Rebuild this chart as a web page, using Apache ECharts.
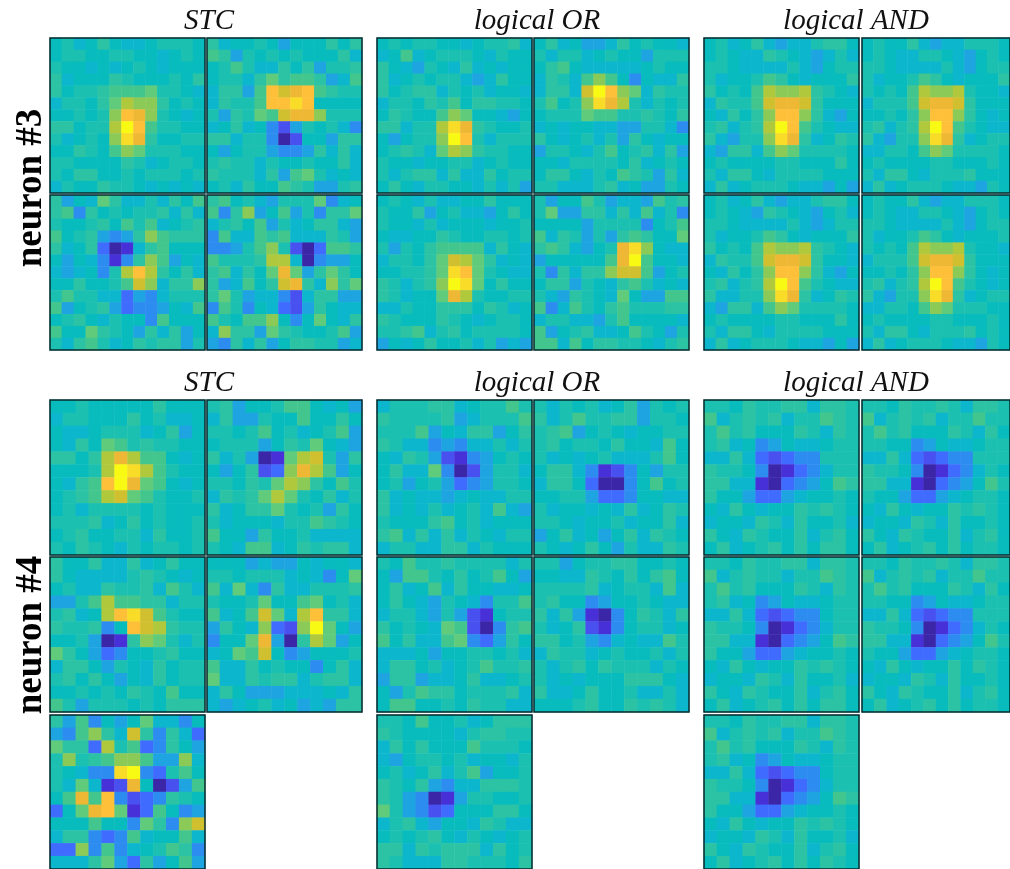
<!DOCTYPE html>
<html><head><meta charset="utf-8">
<style>html,body{margin:0;padding:0;background:#fff;overflow:hidden}#c{width:1010px;height:869px}</style>
<script src="https://cdn.jsdelivr.net/npm/echarts@6/dist/echarts.min.js"></script>
</head><body><div id="c"></div>
<script>
// Each character is one cell's colour level, base 36, from 0 (dark blue) to i (yellow).
const n3StcA=["7867976678887","7887788776787","8776767876777","9677798777879","97889aaab8876","68879bdcc9787","77878cgfc8767","99788diga8877","86787chf97788","77987acb88877","8877779867887","8799778788878","6877988767676"];
const n3StcB=["9677875777979","a958787877796","78a8669795889","78869b9aa956a","6995agefga988","6988agghg7777","8598baeffc888","6796742587864","9968840277599","7578854459696","8988687787796","9888695ab8676","786977a985589"];
const n3StcC=["9576b9668697a","9a49787889696","877897a8a6789","a7895459ca999","967930169a777","75764149ca576","656748dgd9796","779778aec699c","8a88663546888","a57895344576a","789768774a777","a77b987596957","869a867989958"];
const n3StcD=["9a7865888b467","a49c57a58499b","6897a58679965","4a66a9a666985","4458ac8203aa9","a8889dd604557","9a697bfb59b97","956a79ef96c9b","9b85664269955","4a84763259766","a87aac747b769","6c995b98778a5","5496957998856"];
const n3OrA=["7878877678896","67a6788876877","9765876967677","9678788656977","9789968786776","688798a799887","79877acb77657","99688dhf98778","75788cig86888","78986bdc98877","8776778867877","8689969669788","7976887768685"];
const n3OrB=["7967556978776","8688678775888","79a7666667877","6986aca747669","6996eigcb6988","8a78chfd86878","7888baa889879","6767766558864","9767868597677","588768a789695","7768888796787","7997687a98596","8866689675587"];
const n3OrC=["7876866779777","8779578665797","8776867776778","7667798778878","85879aaaa6976","68879bedb9676","77889bhgb8766","98689cihb7977","98677bfd87788","6687799979867","9877798767887","889a689788887","5767977868565"];
const n3OrD=["8577a85665a89","8b5599696a684","777758888478a","a6985859a977b","9a96578fhc766","577777afia776","849699ceea578","79958769a8676","8659876b755aa","a46a879a88899","6886658a77776","a5789667a8758","aa6a799887689"];
const n3AndA=["7867965668997","7876698765686","8876666865788","86778a9767779","9787adccd9876","6988aeffe9777","76979cggc9657","89689diga8766","96588chf96798","65996acb88887","7877778877797","8699768888777","6967888766575"];
const n3AndB=["7877965668887","7876688765787","8876666865788","86778a9767779","8787adccd8776","6888aeffe9777","77879cggc9767","89689diga8766","96588chf96788","66887acb88887","7877778877787","8699768889777","6967888766587"];
const n3AndC=["7867965668997","7876598765786","8876666865688","86778a9767779","9787adccd9876","6988aeffe9776","76979cggc9657","89689diga8766","96688chf96798","65996acb88887","7877778877797","8699768888777","6967888766575"];
const n3AndD=["7877965668887","7876688765787","8876666865788","86778a9767778","8787adccd8776","6888aeffe9777","77879cggc9767","89689diga8767","96588chf96788","66887acb88877","7877778877787","8699768889787","6967888766587"];
const n4StcA=["778777779777","688777978667","766788867957","7697ba898877","9979dfdaa767","7778dihda877","769agifba767","789adeba8778","786888878777","888967978778","789778869778","879876878878"];
const n4StcB=["895778aa7675","6955877a7797","8878a78678a5","78885798b765","968501bde859","757923cfda57","88798bdc97a8","6989bdb87968","96799b878597","86777688a987","a77597786666","876aa6798996"];
const n4StcC=["977966967977","976666898767","786698896a86","558adaa99688","8967dghea877","988947ged988","7785019cb868","b97534778977","699758769788","897975769788","778787987a77","a85888787999"];
const n4StcD=["777565576776","88788867647b","a6b649668889","8778b77ab786","a67aeb6dg996","5976c32cib75","477bf509db57","67bae7457778","a66978774796","b66989968996","697555666769","656786756599"];
const n4StcE=["95a4757b6647","54ac96e94963","b993d8a34975","8c89acca55c6","87644hi438a7","86b612f7025a","7afag4234987","37bfgb13a745","777a774b94ce","699434a677a6","33c4a4678a94","6669b53957a5"];
const n4OrA=["6888996788a8","98888956888a","888a57699579","986645466868","769852145787","7966b4025886","785785345887","967665676688","967686786a65","87779a786777","9a6969687688","688669968777"];
const n4OrB=["868786795878","968a88995887","89a578767788","8978879776a7","8676786668a7","799641247588","699730047a78","778853347766","867767696798","887677867796","579675796987","876797586698"];
const n4OrC=["87a889888868","75aa87978a75","7967a6977667","79765876488a","688658521788","97876ba2049a","a7966ab43597","666757788786","69978678a889","599566796678","758a99788896","7aa778798866"];
const n4OrD=["885788997787","7766987979a7","8888967886a6","897745778766","969510479869","867921478867","9978546766a8","698867877868","868979888687","867677799976","966797786686","777897798986"];
const n4OrE=["887a77867999","987777689988","6979777a8887","657887867768","7867968a5778","987954669998","985401588778","b85423777997","689657769866","787897687678","996989996978","986669988879"];
const n4AndA=["887988996998","a68989688a98","8a8977798698","896745766788","669632344888","988740134688","9966103457a9","977533567787","769767798987","677698697786","976987796897","796789797997"];
const n4AndB=["887988986998","a68989688a88","8a8977798697","887745766788","669632344888","988740134687","9966103457a8","877533567887","769767798987","677698697787","976987796897","796789797887"];
const n4AndC=["887988996998","a68988688a98","8a8977798698","896745766788","669632344788","988740134688","9966103457a9","977533567787","769767798987","677698697786","976987796897","796789797997"];
const n4AndD=["887988986998","a68989688a88","8a8977798697","887745766788","669632344888","988740134687","9966103457a8","877533567887","769767797987","677698697787","976987796897","796789797887"];
const n4AndE=["887988996998","a68989688a98","8a8977798698","896745766788","669632344788","988740134688","9966103457a9","977533567787","769767798987","677698697786","976987796897","796789797987"];

const columnTitles=["STC","logical OR","logical AND"];
const neuronLabels=["neuron #3","neuron #4"];
const palette=["#3c26a8","#4830d8","#4850f0","#3f6cff","#2d8cf0","#1ea4e0","#0cb6cc","#08bcbe","#1cc0b0","#2cc3a4","#42c68e","#60cb7a","#8cca58","#b0c83c","#d0c030","#eeb834","#fec038","#f8dc28","#f8fa14"];

const X=[50,207,377,534,704,862], Y=[38,195,400,557,715], SIZE=155;
const panels=[
 [n3StcA,0,0],[n3StcB,1,0],[n3StcC,0,1],[n3StcD,1,1],
 [n3OrA,2,0],[n3OrB,3,0],[n3OrC,2,1],[n3OrD,3,1],
 [n3AndA,4,0],[n3AndB,5,0],[n3AndC,4,1],[n3AndD,5,1],
 [n4StcA,0,2],[n4StcB,1,2],[n4StcC,0,3],[n4StcD,1,3],[n4StcE,0,4],
 [n4OrA,2,2],[n4OrB,3,2],[n4OrC,2,3],[n4OrD,3,3],[n4OrE,2,4],
 [n4AndA,4,2],[n4AndB,5,2],[n4AndC,4,3],[n4AndD,5,3],[n4AndE,4,4]
];
const grid=[],xAxis=[],yAxis=[],series=[];
panels.forEach(([rows,c,r],i)=>{
  const cats=rows.map((_,k)=>k);
  grid.push({left:X[c],top:Y[r],width:SIZE,height:SIZE,show:true,z:5,borderColor:'#06282c',borderWidth:1.5,backgroundColor:'transparent'});
  const hidden={axisLine:{show:false},axisTick:{show:false},axisLabel:{show:false},splitLine:{show:false},splitArea:{show:false}};
  xAxis.push({type:'category',gridIndex:i,data:cats,...hidden});
  yAxis.push({type:'category',gridIndex:i,data:cats,inverse:true,...hidden});
  const data=[];
  rows.forEach((row,y)=>[...row].forEach((ch,x)=>data.push([x,y,parseInt(ch,36)])));
  series.push({type:'heatmap',xAxisIndex:i,yAxisIndex:i,data,silent:true,progressive:0,itemStyle:{borderWidth:0}});
});
const serif='"Liberation Serif","Times New Roman",serif';
const graphic=[];
[21,383].forEach(y=>columnTitles.forEach((t,i)=>{
  graphic.push({type:'text',x:[209,537,856][i],y,style:{text:t,font:'italic 29px '+serif,fill:'#111',textAlign:'center',textVerticalAlign:'middle'}});
}));
[[31,188],[31,635]].forEach(([x,y],i)=>graphic.push({type:'text',x,y,rotation:Math.PI/2,style:{text:neuronLabels[i],font:'bold 37px '+serif,fill:'#000',textAlign:'center',textVerticalAlign:'middle'}}));
const chart=echarts.init(document.getElementById('c'),null,{renderer:'canvas',width:1010,height:869});
chart.setOption({animation:false,backgroundColor:'#fff',grid,xAxis,yAxis,series,graphic,
  visualMap:{show:false,type:'continuous',min:0,max:18,seriesIndex:series.map((_,i)=>i),inRange:{color:palette}}});
</script>
</body></html>
